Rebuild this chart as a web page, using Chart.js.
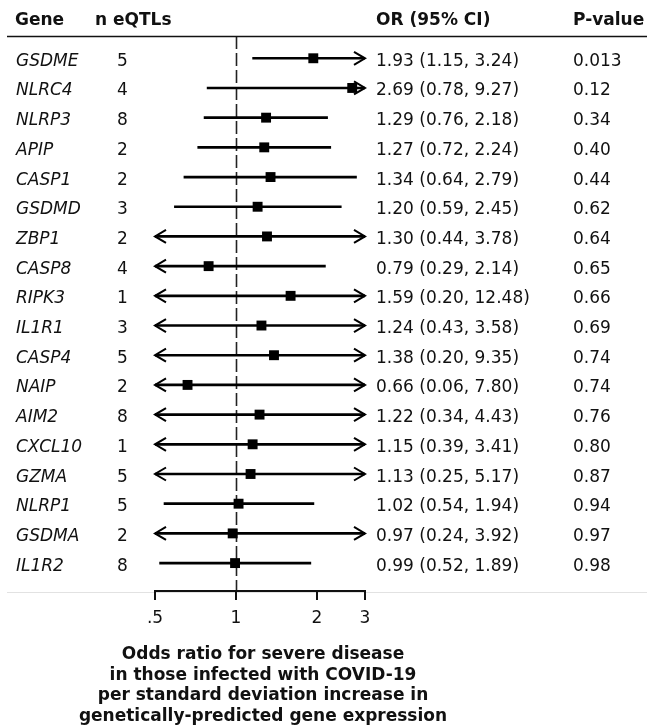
<!DOCTYPE html>
<html>
<head>
<meta charset="utf-8">
<script src="https://cdn.jsdelivr.net/npm/chart.js@4.4.1/dist/chart.umd.min.js"></script>
<style>
  html, body { margin: 0; padding: 0; background: #fff; }
  #wrap { width: 662px; height: 728px; position: relative; }
</style>
</head>
<body>
<div id="wrap"><canvas id="forest"></canvas></div>
<script>
// data
const genes = ['GSDME', 'NLRC4', 'NLRP3', 'APIP', 'CASP1', 'GSDMD', 'ZBP1', 'CASP8', 'RIPK3',
  'IL1R1', 'CASP4', 'NAIP', 'AIM2', 'CXCL10', 'GZMA', 'NLRP1', 'GSDMA', 'IL1R2'];
const nEqtls = [5, 4, 8, 2, 2, 3, 2, 4, 1, 3, 5, 2, 8, 1, 5, 5, 2, 8];
const oddsRatio = [1.93, 2.69, 1.29, 1.27, 1.34, 1.20, 1.30, 0.79, 1.59, 1.24, 1.38, 0.66, 1.22, 1.15, 1.13, 1.02, 0.97, 0.99];
const ciLow = [1.15, 0.78, 0.76, 0.72, 0.64, 0.59, 0.44, 0.29, 0.20, 0.43, 0.20, 0.06, 0.34, 0.39, 0.25, 0.54, 0.24, 0.52];
const ciHigh = [3.24, 9.27, 2.18, 2.24, 2.79, 2.45, 3.78, 2.14, 12.48, 3.58, 9.35, 7.80, 4.43, 3.41, 5.17, 1.94, 3.92, 1.89];
const pValues = ['0.013', '0.12', '0.34', '0.40', '0.44', '0.62', '0.64', '0.65', '0.66', '0.69',
  '0.74', '0.74', '0.76', '0.80', '0.87', '0.94', '0.97', '0.98'];
const xTicks = [0.5, 1, 2, 3];
const xTickLabels = ['.5', '1', '2', '3'];
const headers = ['Gene', 'n eQTLs', 'OR (95% CI)', 'P-value'];
const xTitle = ['Odds ratio for severe disease', 'in those infected with COVID-19',
  'per standard deviation increase in', 'genetically-predicted gene expression'];

const FONT = '"DejaVu Sans", Verdana, sans-serif';
const INK = '#111';

// dashed reference line at OR = 1 (under the markers)
const refLine = {
  id: 'refLine',
  beforeDatasetsDraw(chart) {
    const { ctx, chartArea, scales } = chart;
    const x = Math.round(scales.x.getPixelForValue(1)) + 0.5;
    ctx.save();
    ctx.strokeStyle = '#222';
    ctx.lineWidth = 1.6;
    ctx.setLineDash([13, 4]);
    ctx.beginPath();
    ctx.moveTo(x, chartArea.top);
    ctx.lineTo(x, chartArea.bottom);
    ctx.stroke();
    ctx.restore();
  }
};

// open arrow heads where the CI runs past the axis range
const ciArrows = {
  id: 'ciArrows',
  afterDatasetsDraw(chart) {
    const { ctx, scales } = chart;
    const xs = scales.x, ys = scales.y;
    const left = xs.getPixelForValue(xs.min), right = xs.getPixelForValue(xs.max);
    ctx.save();
    ctx.strokeStyle = '#000';
    ctx.lineWidth = 2;
    ctx.lineJoin = 'miter';
    genes.forEach((g, i) => {
      const y = ys.getPixelForValue(i);
      if (ciHigh[i] > xs.max) {
        ctx.beginPath();
        ctx.moveTo(right - 11, y - 6.5);
        ctx.lineTo(right, y);
        ctx.lineTo(right - 11, y + 6.5);
        ctx.stroke();
      }
      if (ciLow[i] < xs.min) {
        ctx.beginPath();
        ctx.moveTo(left + 11, y - 6.5);
        ctx.lineTo(left, y);
        ctx.lineTo(left + 11, y + 6.5);
        ctx.stroke();
      }
    });
    ctx.restore();
  }
};

// table columns, header rule, x axis and its title
const tableText = {
  id: 'tableText',
  afterDraw(chart) {
    const { ctx, scales } = chart;
    const xs = scales.x, ys = scales.y;
    const axisY = ys.bottom;
    ctx.save();
    ctx.fillStyle = INK;
    ctx.textBaseline = 'alphabetic';

    // header
    ctx.font = 'bold 17px ' + FONT;
    ctx.textAlign = 'left';
    ctx.fillText(headers[0], 15, 25);
    ctx.fillText(headers[1], 95, 25);
    ctx.fillText(headers[2], 376, 25);
    ctx.fillText(headers[3], 573, 25);

    ctx.strokeStyle = '#111';
    ctx.lineWidth = 1.5;
    ctx.beginPath();
    ctx.moveTo(7, 36.5);
    ctx.lineTo(647, 36.5);
    ctx.stroke();

    // rows
    genes.forEach((g, i) => {
      const y = ys.getPixelForValue(i) + 7.5;
      ctx.font = 'italic 17px ' + FONT;
      ctx.fillText(g, 16, y);
      ctx.font = '17px ' + FONT;
      ctx.fillText(String(nEqtls[i]), 117, y);
      ctx.fillText(oddsRatio[i].toFixed(2) + ' (' + ciLow[i].toFixed(2) + ', ' + ciHigh[i].toFixed(2) + ')', 376, y);
      ctx.fillText(pValues[i], 573, y);
    });

    // faint rule at the axis level
    ctx.strokeStyle = '#e2e2e2';
    ctx.lineWidth = 1;
    ctx.beginPath();
    ctx.moveTo(7, axisY + 1.5);
    ctx.lineTo(647, axisY + 1.5);
    ctx.stroke();

    // x axis
    ctx.strokeStyle = '#111';
    ctx.lineWidth = 2;
    ctx.beginPath();
    ctx.moveTo(xs.getPixelForValue(xTicks[0]) - 1, axisY);
    ctx.lineTo(xs.getPixelForValue(xTicks[xTicks.length - 1]) + 1, axisY);
    ctx.stroke();
    ctx.font = '17px ' + FONT;
    ctx.textAlign = 'center';
    xTicks.forEach((t, k) => {
      const x = Math.round(xs.getPixelForValue(t));
      ctx.beginPath();
      ctx.moveTo(x, axisY);
      ctx.lineTo(x, axisY + 9);
      ctx.stroke();
      ctx.fillText(xTickLabels[k], x, axisY + 32);
    });

    // axis title
    ctx.font = 'bold 17px ' + FONT;
    xTitle.forEach((line, k) => {
      ctx.fillText(line, 263, 659 + k * 20.6);
    });
    ctx.restore();
  }
};

new Chart(document.getElementById('forest'), {
  type: 'bar',
  data: {
    datasets: [
      {
        type: 'scatter',
        label: 'OR',
        data: genes.map((g, i) => ({ x: oddsRatio[i], y: i })),
        pointStyle: 'rect',
        pointRadius: 7,
        pointBorderWidth: 0,
        backgroundColor: '#000',
        borderColor: '#000'
      },
      {
        label: '95% CI',
        indexAxis: 'y',
        data: genes.map((g, i) => ({ x: [ciLow[i], ciHigh[i]], y: i })),
        backgroundColor: '#000',
        borderWidth: 0,
        barThickness: 2,
        borderSkipped: false
      }
    ]
  },
  options: {
    responsive: true,
    maintainAspectRatio: false,
    animation: false,
    layout: { padding: { left: 155, right: 297, top: 36, bottom: 137 } },
    scales: {
      x: { type: 'logarithmic', min: 0.5, max: 3, offset: false, display: false },
      y: { type: 'linear', reverse: true, min: -0.75, max: 17.94, offset: false, display: false }
    },
    plugins: {
      legend: { display: false },
      tooltip: { enabled: false }
    }
  },
  plugins: [refLine, ciArrows, tableText]
});
</script>
</body>
</html>
